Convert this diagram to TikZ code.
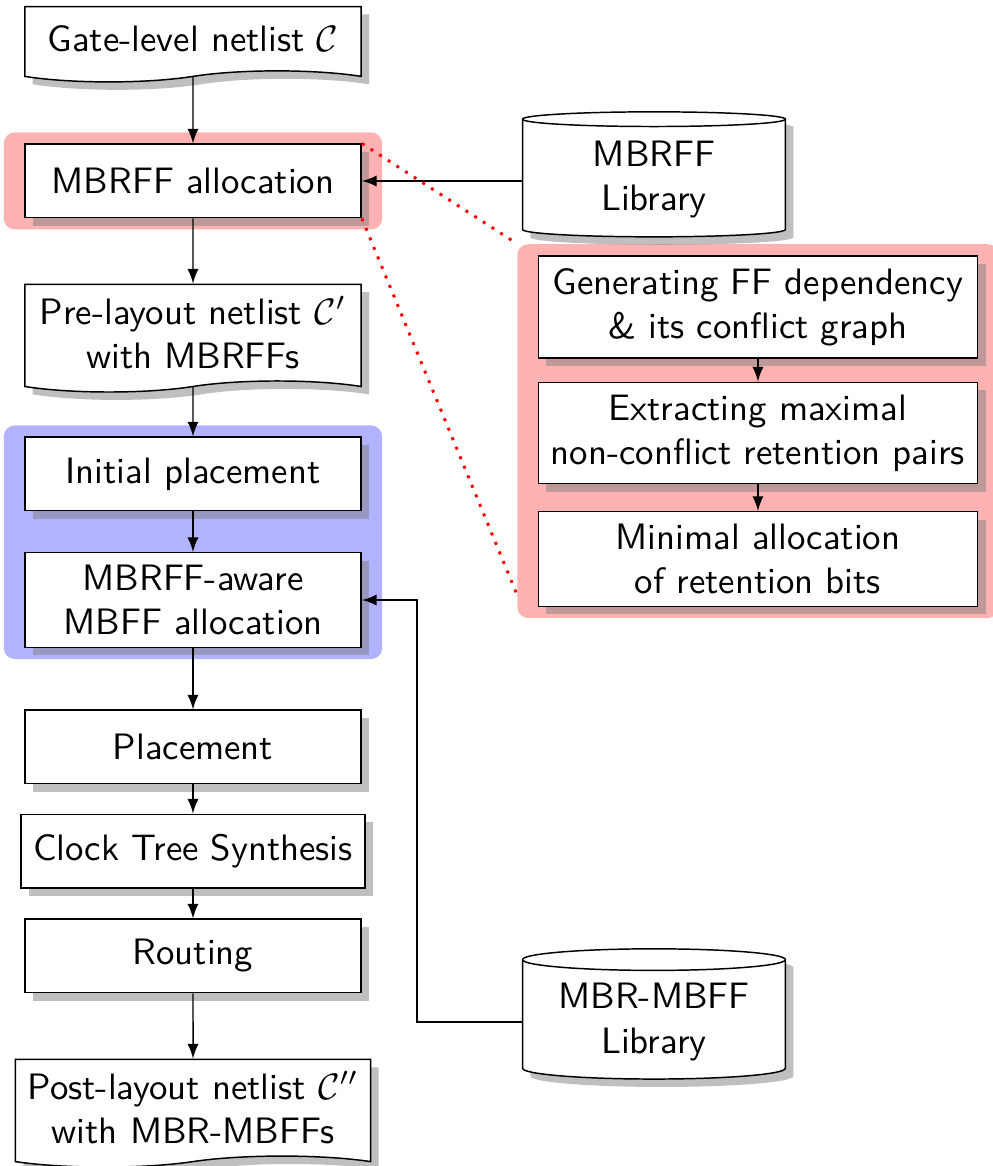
\documentclass[tikz,border=0pt]{standalone}
\usetikzlibrary{shapes.symbols,shapes.geometric,shadows,fit,backgrounds,calc}
\tikzset{
	stage/.style={draw, fill=white, drop shadow, minimum width=91.5pt, minimum height=20pt, align=center},
	substage/.style={stage, minimum width=119.5pt},
	netdoc/.style={tape, tape bend top=none, tape bend bottom=in and out, tape bend height=3pt, draw, fill=white, drop shadow, minimum width=91.5pt, minimum height=20.5pt, align=center},
	libdb/.style={cylinder, shape border rotate=90, aspect=0.1, draw, fill=white, drop shadow, minimum width=71.5pt, minimum height=34pt, align=center},
	hilite/.style={rounded corners=3pt, inner xsep=5.5pt, inner ysep=3pt},
}
\begin{document}
\begin{tikzpicture}[font=\sffamily, >=latex]
		\useasboundingbox (0,0) rectangle (9.484,-11.147);
		% main flow
		\node[netdoc] (gate) at (1.845,-0.37) {Gate-level netlist $\mathcal{C}$};
		\node[stage] (alloc) at (1.845,-1.730) {MBRFF allocation};
		\node[netdoc] (pre) at (1.845,-3.18) {Pre-layout netlist $\mathcal{C}'$\\with MBRFFs};
		\node[stage] (init) at (1.845,-4.531) {Initial placement};
		\node[stage] (aware) at (1.845,-5.736) {MBRFF-aware\\MBFF allocation};
		\node[stage] (place) at (1.845,-7.141) {Placement};
		\node[stage] (cts) at (1.845,-8.136) {Clock Tree Synthesis};
		\node[stage] (route) at (1.845,-9.139) {Routing};
		\node[netdoc] (post) at (1.845,-10.59) {Post-layout netlist $\mathcal{C}''$\\with MBR-MBFFs};
		% libraries
		\node[libdb] (lib1) at (6.252,-1.72) {MBRFF\\Library};
		\node[libdb] (lib2) at (6.252,-9.77) {MBR-MBFF\\Library};
		% allocation steps
		\node[substage] (gen) at (7.246,-2.935) {Generating FF dependency\\\& its conflict graph};
		\node[substage] (ext) at (7.246,-4.139) {Extracting maximal\\non-conflict retention pairs};
		\node[substage] (mini) at (7.246,-5.344) {Minimal allocation\\of retention bits};
		\begin{scope}[on background layer]
			\node[hilite, fill=red!30, fit=(alloc)] (allochl) {};
			\node[hilite, fill=blue!30, fit=(init)(aware)] (placehl) {};
			\node[hilite, fill=red!30, fit=(gen)(ext)(mini)] (panel) {};
		\end{scope}
		\foreach \a/\b in {gate/alloc, alloc/pre, pre/init, init/aware, aware/place, place/cts, cts/route, route/post, gen/ext, ext/mini}
			\draw[->] (\a) -- (\b);
		\draw[->] (lib1.west |- alloc.east) -- (alloc.east);
		\draw[->] (lib2.west) -- ++(-1.0,0) |- (aware.east);
		\draw[red, dotted, thick] (alloc.north east) -- (panel.north west);
		\draw[red, dotted, thick] (alloc.south east) -- ($(panel.south west)+(0,0.24)$);
	\end{tikzpicture}
\end{document}
